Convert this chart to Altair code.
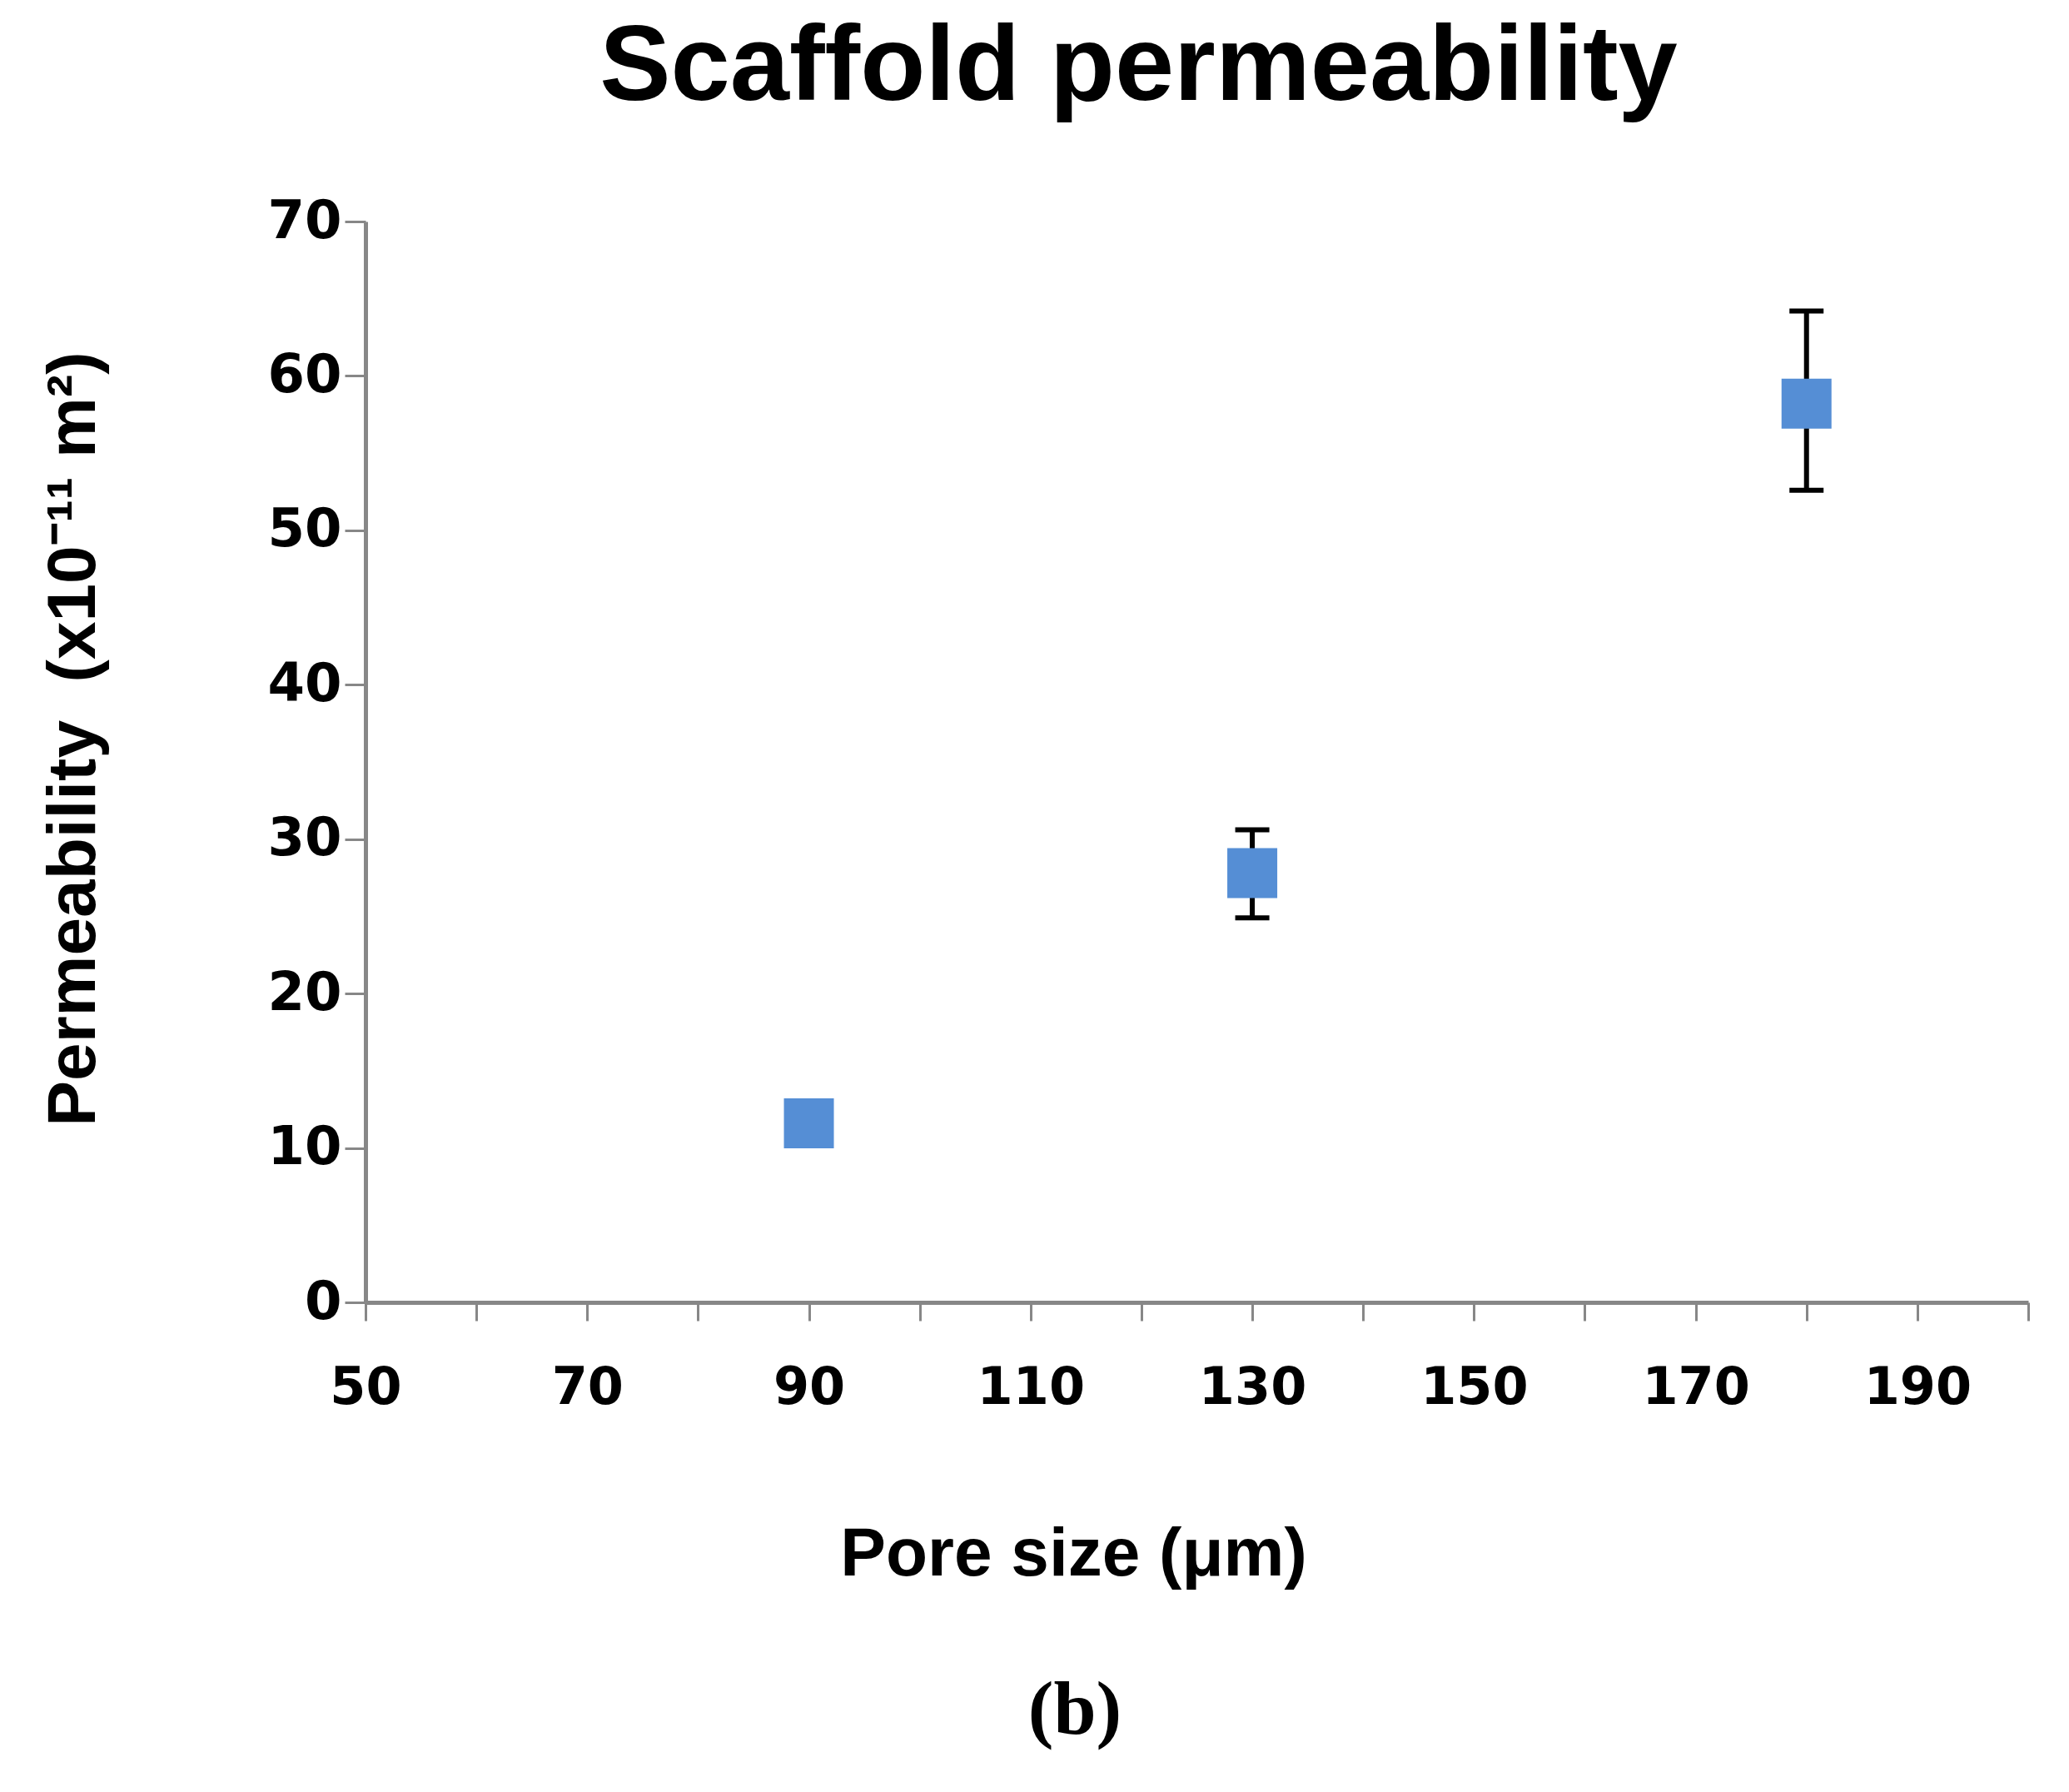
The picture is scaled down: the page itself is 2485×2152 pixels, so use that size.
import altair as alt
import pandas as pd

# ---- data ----
pore_size = [90, 130, 180]
permeability = [11.6, 27.8, 58.2]
err_pore = [130, 180]
err_low = [24.9, 52.6]
err_high = [30.6, 64.2]
x_ticks = list(range(50, 201, 10))
y_ticks = list(range(0, 71, 10))
caption_text = ["(b)"]

points = pd.DataFrame({"pore": pore_size, "perm": permeability})
errs = pd.DataFrame({"pore": err_pore, "lo": err_low, "hi": err_high})
caption = pd.DataFrame({"label": caption_text})

W, H = 1997, 1298
AXIS_GRAY = "#878787"
BLUE = "#558ED5"

x_scale = alt.Scale(domain=[50, 200], nice=False, zero=False)
y_scale = alt.Scale(domain=[0, 70], nice=False)

x_axis = alt.Axis(
    values=x_ticks,
    labelExpr="datum.value % 20 == 10 ? datum.label : ''",
    title="Pore size (μm)",
    grid=False,
    domainColor=AXIS_GRAY, domainWidth=5,
    tickColor=AXIS_GRAY, tickWidth=3, tickSize=22,
    labelFont="DejaVu Sans", labelFontWeight="bold", labelFontSize=62,
    labelColor="black", labelPadding=50, labelFlush=False, labelOverlap=False,
    titleFont="Liberation Sans", titleFontWeight="bold", titleFontSize=82,
    titleColor="black", titleX=850, titleY=327,
    titleBaseline="alphabetic", titleAlign="center",
)

y_axis = alt.Axis(
    values=y_ticks,
    title="Permeability\u00a0\u00a0(x10⁻¹¹ m²)",
    grid=False,
    domainColor=AXIS_GRAY, domainWidth=5,
    tickColor=AXIS_GRAY, tickWidth=3, tickSize=25,
    labelFont="DejaVu Sans", labelFontWeight="bold", labelFontSize=64,
    labelColor="black", labelPadding=4, labelFlush=False, labelOverlap=False,
    titleFont="Liberation Sans", titleFontWeight="bold", titleFontSize=82,
    titleColor="black", titleX=-326, titleY=621, titleAngle=270,
    titleBaseline="alphabetic", titleAlign="center",
)

rules = alt.Chart(errs).mark_rule(color="black", strokeWidth=6).encode(
    x=alt.X("pore:Q", scale=x_scale, axis=x_axis),
    y=alt.Y("lo:Q", scale=y_scale, axis=y_axis),
    y2="hi:Q",
)

caps_lo = alt.Chart(errs).mark_tick(
    color="black", orient="horizontal", size=41, thickness=6, opacity=1
).encode(
    x=alt.X("pore:Q", scale=x_scale, axis=x_axis),
    y=alt.Y("lo:Q", scale=y_scale, axis=y_axis),
)

caps_hi = alt.Chart(errs).mark_tick(
    color="black", orient="horizontal", size=41, thickness=6, opacity=1
).encode(
    x=alt.X("pore:Q", scale=x_scale, axis=x_axis),
    y=alt.Y("hi:Q", scale=y_scale, axis=y_axis),
)

pts = alt.Chart(points).mark_square(size=3600, color=BLUE, opacity=1, filled=True).encode(
    x=alt.X("pore:Q", scale=x_scale, axis=x_axis),
    y=alt.Y("perm:Q", scale=y_scale, axis=y_axis),
)

cap = alt.Chart(caption).mark_text(
    font="Liberation Serif", fontWeight="bold", fontSize=92,
    baseline="alphabetic", align="center", color="black",
).encode(
    x=alt.value(852), y=alt.value(1816), text="label:N",
)

chart = alt.layer(rules, caps_lo, caps_hi, pts, cap).properties(
    width=W, height=H,
    background="white",
    title=alt.TitleParams(
        text="Scaffold permeability",
        font="Liberation Sans", fontWeight="bold", fontSize=128, color="black",
        anchor="middle", frame="group", dx=-70, dy=127,
        baseline="alphabetic", offset=113,
    ),
    padding={"left": 431, "top": 258, "right": 30, "bottom": 560},
    autosize=alt.AutoSizeParams(type="none"),
).configure_view(stroke=None)

chart.save("out.html", embed_options={"renderer": "svg", "actions": False})
